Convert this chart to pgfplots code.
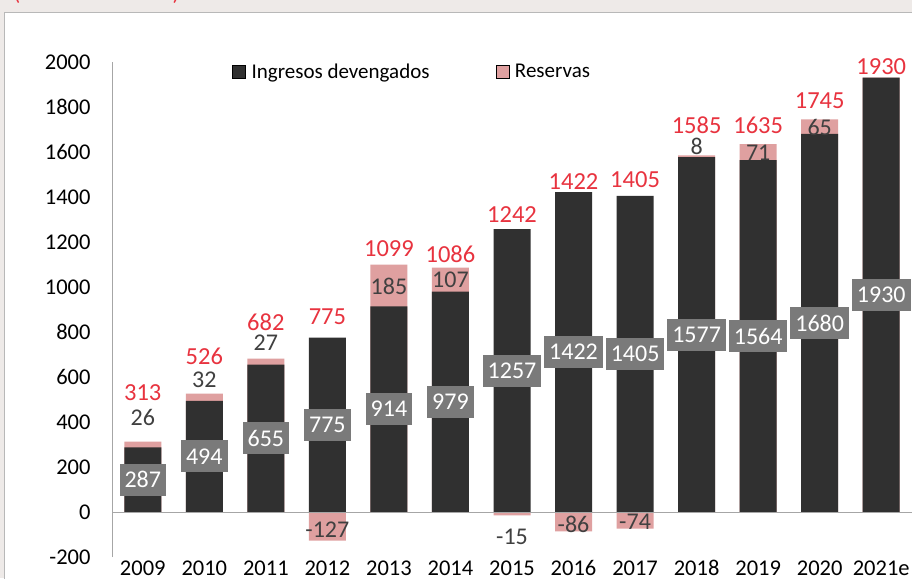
\documentclass[border=0pt]{standalone}
\usepackage{fontspec}
\setmainfont{Carlito}
\usepackage{pgfplots}
\usepackage{pgfplotstable}
\pgfplotsset{compat=1.18}
\definecolor{darkbar}{HTML}{303030}
\definecolor{pinkbar}{HTML}{DFA0A0}
\definecolor{boxgray}{HTML}{7A7A7A}
\definecolor{redlab}{HTML}{E8333F}
\definecolor{labdark}{HTML}{404040}
\definecolor{bggray}{HTML}{EEEAE8}
\definecolor{axgray}{HTML}{A6A6A6}

% x: category index; dark: ingresos devengados; top: upper end of the pink bar
% (ingresos + reservas when reservas > 0, otherwise reservas itself)
\pgfplotstableread{
x dark top mid
0 287 313 143.5
1 494 526 247
2 655 682 327.5
3 775 -127 387.5
4 914 1099 457
5 979 1086 489.5
6 1257 -15 628.5
7 1422 -86 711
8 1405 -74 702.5
9 1577 1585 788.5
10 1564 1635 782
11 1680 1745 840
12 1930 1930 965
}\maindata

% red totals and their label height
\pgfplotstableread{
x tot ty
0 313 529
1 526 693
2 682 844
3 775 867
4 1099 1169
5 1086 1147
6 1242 1320
7 1422 1467
8 1405 1476
9 1585 1720
10 1635 1720
11 1745 1827
12 1930 1978
}\totdata

% reservas and their label height
\pgfplotstableread{
x res ry
0 26 418
1 32 587
2 27 751
3 -127 -80
4 185 1004
5 107 1031
6 -15 -111
7 -86 -53
8 -74 -44
9 8 1627
10 71 1596
11 65 1707
}\resdata

\begin{document}
\begin{tikzpicture}[x=1pt,y=1pt]
\path[use as bounding box] (0,0) rectangle (912,578);
\clip (0,0) rectangle (912,578);
\fill[bggray] (0,0) rectangle (912,578);
\fill[white] (4,0) rectangle (914,566);
\draw[axgray!80, line width=0.8pt] (4,-2) -- (4,566) -- (914,566);
\node[text=redlab, font=\fontsize{22}{26}\selectfont, anchor=base] at (17,577) {(};
\node[text=redlab, font=\fontsize{22}{26}\selectfont, anchor=base] at (176,577) {)};
\begin{axis}[
  at={(112pt,21pt)}, anchor=south west,
  scale only axis, width=800pt, height=495pt,
  xmin=-0.5, xmax=12.5, ymin=-200, ymax=2000,
  clip=false,
  axis y line*=left, axis x line*=bottom,
  x axis line style={draw=none},
  y axis line style={draw=axgray, line width=0.9pt},
  ytick={-200,0,...,2000},
  xtick={0,...,12},
  xticklabels={2009,2010,2011,2012,2013,2014,2015,2016,2017,2018,2019,2020,2021e},
  tick style={draw=none},
  /pgf/number format/assume math mode=true,
  /pgf/number format/set thousands separator={},
  ticklabel style={font=\fontsize{22.5}{26}\selectfont, text=black},
  yticklabel style={xshift=-18pt},
  xticklabel style={anchor=base, yshift=-18pt},
  legend columns=2,
  legend style={draw=none, fill=none, at={(rel axis cs:0.15,0.98)}, anchor=west,
     font=\fontsize{21}{25}\selectfont, inner sep=0pt,
     /tikz/every odd column/.append style={column sep=4pt},
     /tikz/every even column/.append style={column sep=64pt}},
  legend cell align=left,
  legend image code/.code={\fill[#1] (0pt,-6.5pt) rectangle (13pt,6.5pt);},
]
\addplot[ybar, bar width=37pt, bar shift=0pt, fill=pinkbar, draw=none, forget plot]
  table[x=x, y=top] {\maindata};
\addplot[ybar, bar width=37pt, bar shift=0pt, fill=darkbar, draw=none, forget plot]
  table[x=x, y=dark] {\maindata};
\draw[axgray, line width=0.9pt] (axis cs:-0.5,0) -- (axis cs:12.6,0);
% gray boxes
\addplot[draw=none, mark=none, forget plot,
  nodes near coords, point meta=explicit symbolic,
  nodes near coords style={anchor=center, fill=boxgray, text=white,
     font=\fontsize{24}{28}\selectfont, minimum height=32pt, inner xsep=5pt, inner ysep=0pt}]
  table[x=x, y=mid, meta=dark] {\maindata};
% reservas labels
\addplot[draw=none, mark=none, forget plot,
  nodes near coords, point meta=explicit symbolic,
  nodes near coords style={anchor=center, text=labdark,
     font=\fontsize{24}{28}\selectfont, inner sep=0pt}]
  table[x=x, y=ry, meta=res] {\resdata};
% totals
\addplot[draw=none, mark=none, forget plot,
  nodes near coords, point meta=explicit symbolic,
  nodes near coords style={anchor=center, text=redlab,
     font=\fontsize{24.5}{28}\selectfont, inner sep=0pt}]
  table[x=x, y=ty, meta=tot] {\totdata};
\addlegendimage{fill=darkbar}
\addlegendentry{Ingresos devengados}
\addlegendimage{fill=pinkbar}
\addlegendentry{Reservas}
\end{axis}
\end{tikzpicture}
\end{document}
